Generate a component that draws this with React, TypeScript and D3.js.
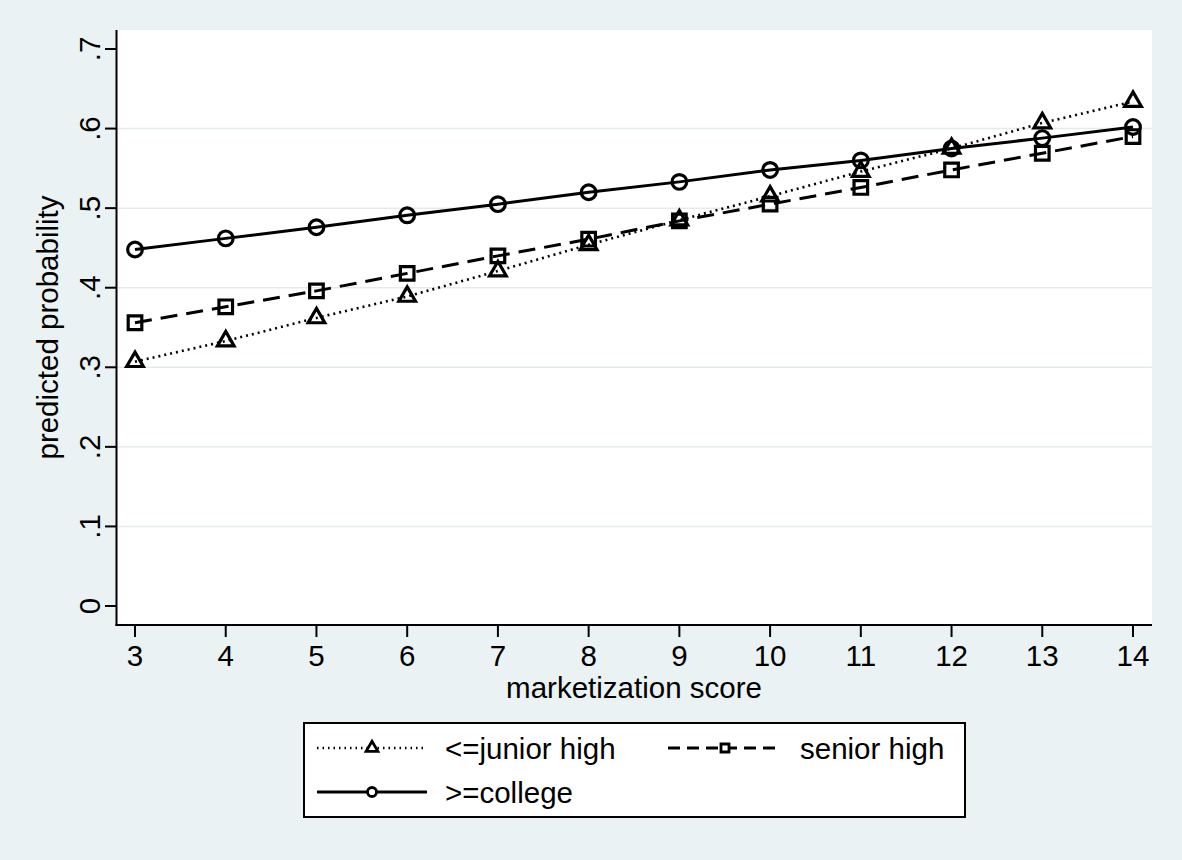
import React from "react";
import * as d3 from "d3";

const scores = [3, 4, 5, 6, 7, 8, 9, 10, 11, 12, 13, 14];
const juniorHigh = [0.307, 0.333, 0.362, 0.389, 0.421, 0.454, 0.485, 0.515, 0.546, 0.575, 0.607, 0.634];
const seniorHigh = [0.356, 0.376, 0.396, 0.418, 0.440, 0.461, 0.484, 0.505, 0.526, 0.548, 0.569, 0.590];
const college = [0.448, 0.462, 0.476, 0.491, 0.505, 0.520, 0.533, 0.548, 0.560, 0.575, 0.588, 0.602];
const yTicks = [0, 0.1, 0.2, 0.3, 0.4, 0.5, 0.6, 0.7];
const yTickLabels = ["0", ".1", ".2", ".3", ".4", ".5", ".6", ".7"];
const seriesNames = ["<=junior high", "senior high", ">=college"];

const W = 1182;
const H = 860;
const BG = "#EAF2F3";
const GRID = "#E2ECEE";
const FONT = "'Liberation Sans', Arial, Helvetica, sans-serif";
const FS = 29.5;

export default function App() {
  const plotL = 117, plotR = 1152, plotT = 30, plotB = 625;
  const x = d3.scaleLinear().domain([3, 14]).range([135, 1133]);
  const y = d3.scaleLinear().domain([0, 0.7]).range([606, 49]);

  const series = [
    { name: seriesNames[0], values: juniorHigh, symbol: d3.symbolTriangle, size: 120, dash: "2,4", width: 2.6 },
    { name: seriesNames[1], values: seniorHigh, symbol: d3.symbolSquare, size: 185, dash: "17,9", width: 3 },
    { name: seriesNames[2], values: college, symbol: d3.symbolCircle, size: 170, dash: "", width: 3 },
  ];

  const line = d3.line<number>().x((_, i) => x(scores[i])).y((v) => y(v));

  const legendItems = [
    { s: series[0], kx1: 317, kx2: 427, mx: 372, ky: 748, tx: 445, legendSize: 60, ldash: "1.5,4" },
    { s: series[1], kx1: 668, kx2: 782, mx: 725, ky: 748, tx: 800, legendSize: 64, ldash: "12,7" },
    { s: series[2], kx1: 317, kx2: 427, mx: 372, ky: 792, tx: 445, legendSize: 64, ldash: "" },
  ];

  return (
    <svg width={W} height={H} style={{ position: "absolute", left: 0, top: 0, display: "block" }} fontFamily={FONT}>
      <rect x={0} y={0} width={W} height={H} fill={BG} />
      <rect x={plotL} y={plotT} width={plotR - plotL} height={plotB - plotT} fill="#FFFFFF" />
      {yTicks.slice(1, 7).map((t) => (
        <line key={"g" + t} x1={plotL} x2={plotR} y1={y(t)} y2={y(t)} stroke={GRID} strokeWidth={1.5} />
      ))}
      {/* axes */}
      <line x1={plotL - 0.5} x2={plotL - 0.5} y1={plotT} y2={plotB + 1} stroke="#000" strokeWidth={2} />
      <line x1={plotL - 1.5} x2={plotR} y1={plotB} y2={plotB} stroke="#000" strokeWidth={2} />
      {yTicks.map((t, i) => (
        <g key={"yt" + t}>
          <line x1={105} x2={plotL} y1={y(t)} y2={y(t)} stroke="#000" strokeWidth={2} />
          <text
            transform={`translate(100,${y(t)}) rotate(-90)`}
            textAnchor="middle"
            fontSize={FS}
            fill="#000"
          >
            {yTickLabels[i]}
          </text>
        </g>
      ))}
      {scores.map((s) => (
        <g key={"xt" + s}>
          <line x1={x(s)} x2={x(s)} y1={plotB} y2={637} stroke="#000" strokeWidth={2} />
          <text x={x(s)} y={666} textAnchor="middle" fontSize={FS} fill="#000">
            {s}
          </text>
        </g>
      ))}
      <text x={634} y={698} textAnchor="middle" fontSize={FS} fill="#000">
        marketization score
      </text>
      <text transform={`translate(58,${(plotT + plotB) / 2}) rotate(-90)`} textAnchor="middle" fontSize={FS} fill="#000">
        predicted probability
      </text>
      {/* series */}
      {series.map((s) => (
        <g key={s.name}>
          <path d={line(s.values) || ""} fill="none" stroke="#000" strokeWidth={s.width} strokeDasharray={s.dash || undefined} />
          {s.values.map((v, i) => (
            <path
              key={i}
              d={d3.symbol(s.symbol, s.size)() || ""}
              transform={`translate(${x(scores[i])},${y(v)})`}
              fill="none"
              stroke="#000"
              strokeWidth={3.2}
            />
          ))}
        </g>
      ))}
      {/* legend */}
      <rect x={304} y={723} width={661} height={94} fill="#FFFFFF" stroke="#000" strokeWidth={2} />
      {legendItems.map((it) => (
        <g key={"lg" + it.s.name}>
          <line x1={it.kx1} x2={it.kx2} y1={it.ky} y2={it.ky} stroke="#000" strokeWidth={it.s.width} strokeDasharray={it.ldash || undefined} />
          <path
            d={d3.symbol(it.s.symbol, it.legendSize)() || ""}
            transform={`translate(${it.mx},${it.ky})`}
            fill="#FFFFFF"
            stroke="#000"
            strokeWidth={2.8}
          />
          <text x={it.tx} y={it.ky + 11} fontSize={FS} fill="#000">
            {it.s.name}
          </text>
        </g>
      ))}
    </svg>
  );
}
